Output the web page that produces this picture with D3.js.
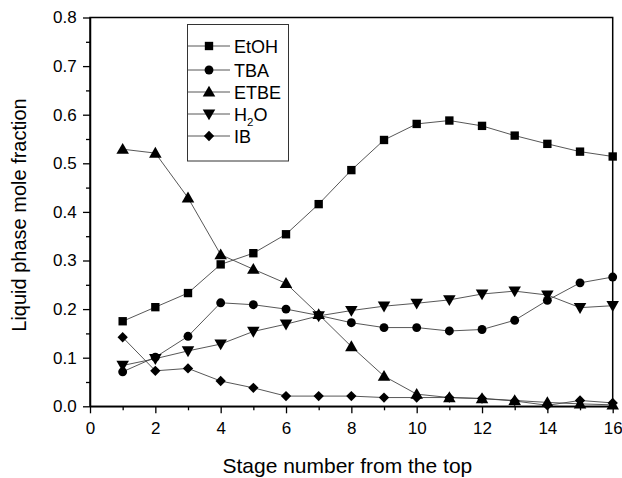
<!DOCTYPE html>
<html><head><meta charset="utf-8">
<script src="https://cdn.jsdelivr.net/npm/d3@7"></script>
<style>body{margin:0;background:#fff}svg{display:block;font-family:"Liberation Sans",Arial,sans-serif}</style>
</head><body><svg id="c" width="622" height="478"></svg>
<script>
const stages = [1,2,3,4,5,6,7,8,9,10,11,12,13,14,15,16];
const etoh = [0.175,0.204,0.233,0.292,0.315,0.354,0.416,0.486,0.548,0.581,0.588,0.577,0.557,0.540,0.524,0.514];
const tba  = [0.071,0.101,0.144,0.213,0.209,0.200,0.187,0.172,0.162,0.162,0.155,0.158,0.177,0.218,0.254,0.266];
const etbe = [0.529,0.521,0.429,0.312,0.282,0.253,0.189,0.123,0.062,0.025,0.018,0.016,0.012,0.008,0.005,0.003];
const h2o  = [0.084,0.098,0.114,0.128,0.154,0.169,0.186,0.197,0.206,0.212,0.219,0.231,0.237,0.229,0.203,0.207];
const ib   = [0.142,0.073,0.078,0.052,0.038,0.021,0.021,0.021,0.018,0.018,0.018,0.016,0.011,0.002,0.012,0.007];
const seriesNames = ["EtOH","TBA","ETBE","H2O","IB"];
const seriesData = [etoh,tba,etbe,h2o,ib];
const xTicks = [0,2,4,6,8,10,12,14,16];
const yTicks = [0,0.1,0.2,0.3,0.4,0.5,0.6,0.7,0.8];
const xLabel = "Stage number from the top";
const yLabel = "Liquid phase mole fraction";

const svg = d3.select("#c");
const L=90, R=612.7, T=17.5, B=406.3;
const x = d3.scaleLinear().domain([0,16]).range([L,R]);
const y = d3.scaleLinear().domain([0,0.8]).range([B,T]);

const shapes = [d3.symbolSquare, d3.symbolCircle, d3.symbolTriangle, d3.symbolTriangle, d3.symbolDiamond2];
const sizes = [70, 62, 68, 68, 68];
const rot = [0,0,0,180,0];
const dy = [0,0,1,-1,0];

function marker(g, i, cx, cy){
  g.append("path").attr("d", d3.symbol().type(shapes[i]).size(sizes[i])())
   .attr("transform", `translate(${cx},${cy+dy[i]}) rotate(${rot[i]})`)
   .attr("fill","#000");
}

// frame
svg.append("rect").attr("x",L).attr("y",T).attr("width",R-L).attr("height",B-T)
  .attr("fill","none").attr("stroke","#000").attr("stroke-width",1.5);

// axes
const xAxis = svg.append("g").attr("transform",`translate(0,${B})`)
  .call(d3.axisBottom(x).tickValues(xTicks).tickFormat(d3.format("d")).tickSize(7).tickSizeOuter(0));
svg.append("g").attr("transform",`translate(0,${B})`)
  .call(d3.axisBottom(x).tickValues(d3.range(1,16,2)).tickFormat("").tickSize(4).tickSizeOuter(0))
  .select(".domain").remove();
const yAxis = svg.append("g").attr("transform",`translate(${L},0)`)
  .call(d3.axisLeft(y).tickValues(yTicks).tickFormat(d3.format(".1f")).tickSize(7).tickSizeOuter(0));
svg.append("g").attr("transform",`translate(${L},0)`)
  .call(d3.axisLeft(y).tickValues(d3.range(0.05,0.8,0.1)).tickFormat("").tickSize(4).tickSizeOuter(0))
  .select(".domain").remove();
svg.selectAll(".domain").attr("stroke-width",1.5);
svg.selectAll(".tick line").attr("stroke-width",1.3);
xAxis.selectAll("text").attr("font-size",17).attr("dy","1.05em").attr("fill","#000");
yAxis.selectAll("text").attr("font-size",17).attr("dx","-0.2em").attr("fill","#000");
svg.selectAll(".tick text").attr("font-family","Liberation Sans, Arial, sans-serif");

// lines + markers
const line = d3.line().x((d,i)=>x(stages[i])).y(d=>y(d));
seriesData.forEach((arr,i)=>{
  svg.append("path").attr("d",line(arr)).attr("fill","none").attr("stroke","#444").attr("stroke-width",0.9);
});
seriesData.forEach((arr,i)=>{
  const g = svg.append("g");
  arr.forEach((v,j)=>marker(g,i,x(stages[j]),y(v)));
});

// legend
const lg = svg.append("g");
lg.append("rect").attr("x",187.5).attr("y",24.5).attr("width",101).attr("height",136.5)
  .attr("fill","#fff").attr("stroke","#333").attr("stroke-width",1);
const rowY = [46,70,92,114,136];
seriesNames.forEach((n,i)=>{
  lg.append("line").attr("x1",188).attr("x2",230).attr("y1",rowY[i]).attr("y2",rowY[i]).attr("stroke","#444").attr("stroke-width",0.9);
  marker(lg,i,209,rowY[i]);
  const t = lg.append("text").attr("x",234).attr("y",rowY[i]+6.5).attr("font-size",18).attr("fill","#000");
  if(n==="H2O"){
    t.append("tspan").text("H");
    t.append("tspan").text("2").attr("font-size",11.5).attr("dy",5);
    t.append("tspan").text("O").attr("dy",-5);
  } else t.text(n);
});

// axis titles
svg.append("text").attr("x",(L+R)/2-4).attr("y",473).attr("text-anchor","middle").attr("font-size",21).text(xLabel);
svg.append("text").attr("transform",`translate(26,215) rotate(-90)`).attr("text-anchor","middle").attr("font-size",20).text(yLabel);
</script></body></html>
